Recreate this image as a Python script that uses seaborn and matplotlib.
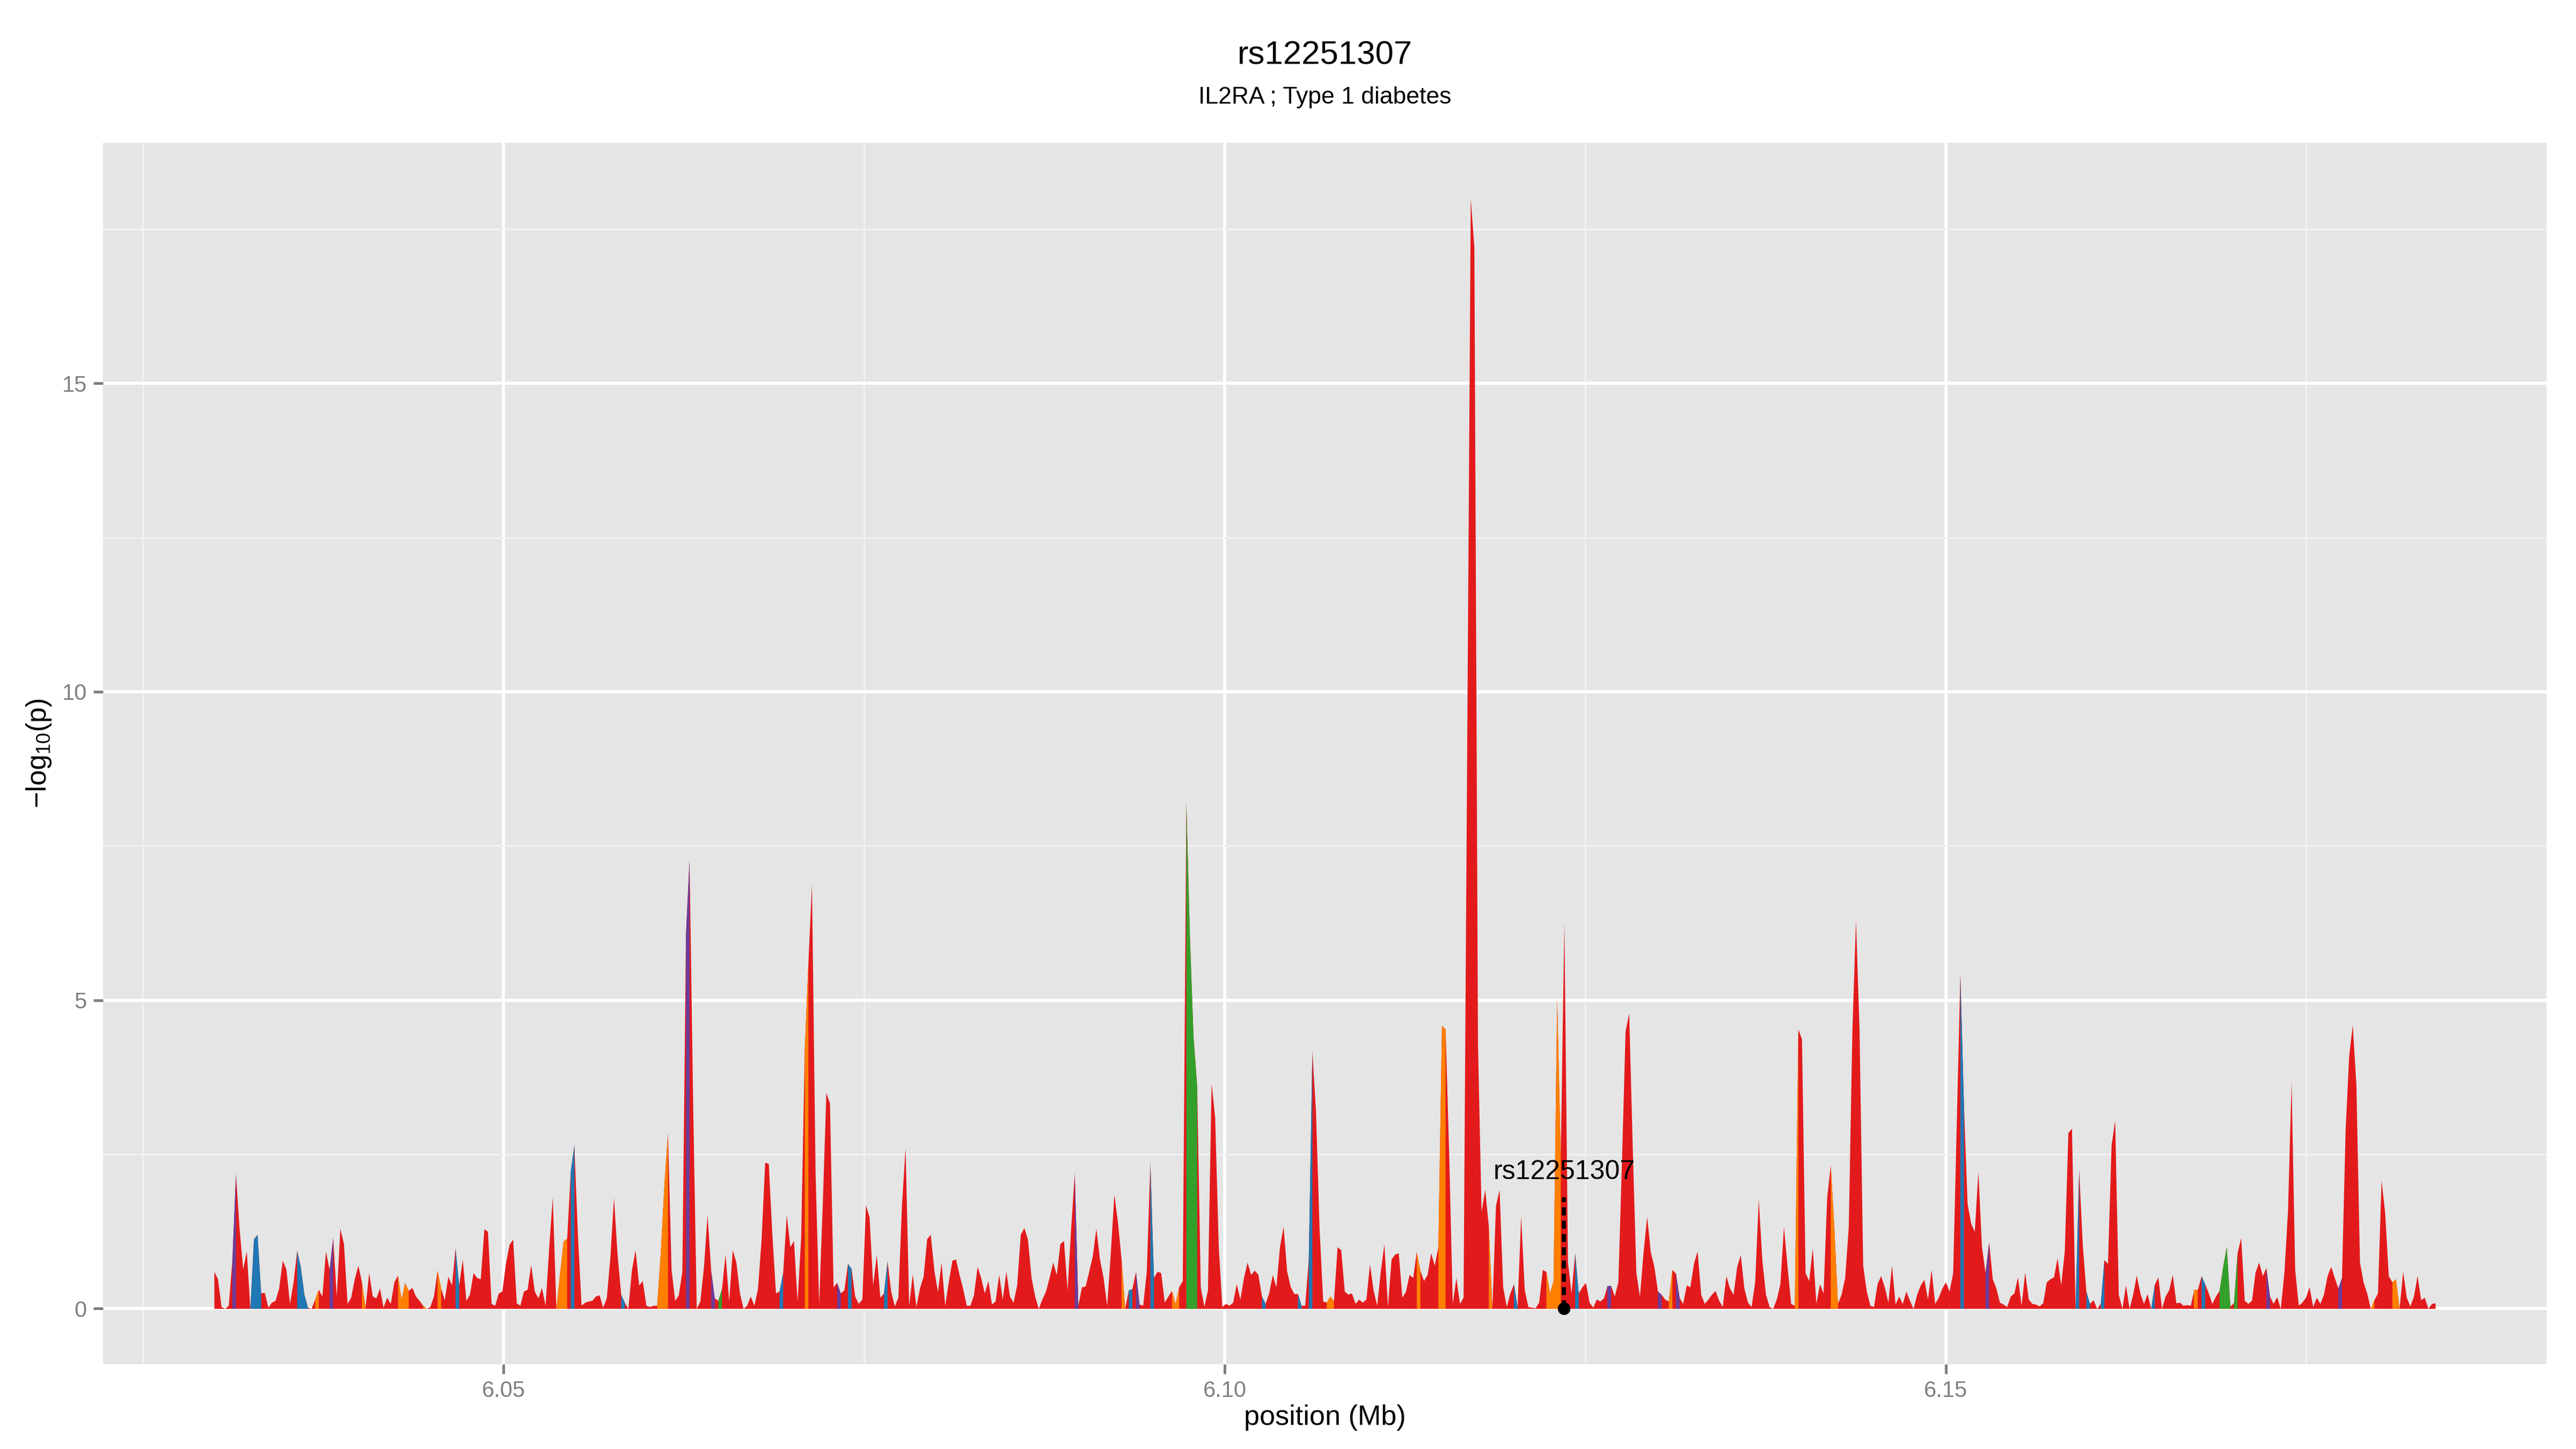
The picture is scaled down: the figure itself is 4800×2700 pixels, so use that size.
import numpy as np
import matplotlib
matplotlib.use("Agg")
import matplotlib.pyplot as plt
import seaborn as sns

# region shown (Mb); the SNPs sit on an even grid (~250 bp apart)
pos_start = 6.02993
pos_end = 6.18395

# -log10(p) for every SNP, left to right
neglogp = [
    # ~6.030 - 6.060
    0.60, 0.48, 0.03, 0.00, 0.05, 0.78, 2.19, 1.30, 0.64, 0.93,
    0.00, 1.13, 1.20, 0.25, 0.26, 0.02, 0.10, 0.13, 0.33, 0.78,
    0.64, 0.08, 0.43, 0.94, 0.68, 0.23, 0.02, 0.00, 0.15, 0.31,
    0.20, 0.93, 0.63, 1.15, 0.20, 1.30, 1.05, 0.08, 0.18, 0.48,
    0.70, 0.43, 0.02, 0.58, 0.20, 0.17, 0.33, 0.02, 0.18, 0.08,
    0.43, 0.54, 0.15, 0.42, 0.29, 0.34, 0.20, 0.13, 0.05, 0.00,
    0.03, 0.20, 0.62, 0.33, 0.14, 0.52, 0.38, 0.98, 0.38, 0.80,
    0.13, 0.23, 0.58, 0.50, 0.48, 1.29, 1.25, 0.08, 0.05, 0.25,
    0.28, 0.73, 1.04, 1.12, 0.09, 0.05, 0.28, 0.31, 0.71, 0.28,
    0.17, 0.34, 0.05, 0.98, 1.81, 0.00, 0.55, 1.09, 1.14, 2.23,
    2.65, 1.18, 0.05, 0.10, 0.12, 0.13, 0.20, 0.22, 0.02, 0.17,
    0.83, 1.80, 0.88, 0.23, 0.10, 0.00, 0.63, 0.95, 0.38, 0.45,
    0.05, 0.03, 0.05,
    # ~6.060 - 6.091
    0.05, 0.90, 2.00, 2.85, 0.63, 0.13, 0.22, 0.60, 6.07, 7.28,
    3.30, 0.00, 0.12, 0.68, 1.52, 0.62, 0.17, 0.13, 0.32, 0.88,
    0.12, 0.95, 0.75, 0.25, 0.00, 0.05, 0.20, 0.05, 0.32, 1.12,
    2.37, 2.35, 1.20, 0.25, 0.28, 0.58, 1.52, 1.00, 1.10, 0.12,
    1.15, 4.20, 5.60, 6.88, 2.20, 0.08, 1.70, 3.50, 3.33, 0.35,
    0.42, 0.25, 0.30, 0.73, 0.65, 0.20, 0.08, 0.15, 1.68, 1.48,
    0.38, 0.87, 0.18, 0.25, 0.77, 0.28, 0.04, 0.18, 1.68, 2.61,
    0.05, 0.56, 0.03, 0.33, 0.52, 1.13, 1.20, 0.62, 0.27, 0.75,
    0.05, 0.43, 0.78, 0.80, 0.55, 0.32, 0.05, 0.05, 0.22, 0.68,
    0.50, 0.25, 0.45, 0.07, 0.12, 0.55, 0.15, 0.60, 0.20, 0.10,
    0.38, 1.20, 1.31, 1.12, 0.50, 0.20, 0.00, 0.15, 0.28, 0.50,
    0.75, 0.55, 1.05, 1.10, 0.30, 1.30, 2.20, 0.05, 0.35, 0.36,
    0.60, 0.85, 1.30, 0.80,
    # ~6.091 - 6.117
    0.50, 0.05, 0.90, 1.85, 1.40, 0.80, 0.00, 0.30, 0.32, 0.60,
    0.07, 0.05, 0.60, 2.37, 0.50, 0.60, 0.58, 0.10, 0.20, 0.29,
    0.08, 0.35, 0.45, 8.20, 6.00, 4.40, 3.60, 0.35, 0.03, 0.30,
    3.65, 3.10, 1.00, 0.03, 0.08, 0.05, 0.10, 0.40, 0.15, 0.50,
    0.75, 0.55, 0.62, 0.55, 0.20, 0.08, 0.25, 0.55, 0.35, 1.00,
    1.33, 0.60, 0.35, 0.24, 0.24, 0.05, 0.05, 0.80, 4.18, 3.20,
    1.30, 0.12, 0.10, 0.20, 0.12, 1.00, 0.95, 0.28, 0.23, 0.25,
    0.08, 0.15, 0.10, 0.15, 0.72, 0.30, 0.05, 0.60, 1.05, 0.03,
    0.80, 0.88, 0.90, 0.18, 0.28, 0.55, 0.50, 0.92, 0.62, 0.45,
    0.55, 0.90, 0.70, 1.00, 4.59, 4.53, 2.50, 0.08, 0.50, 0.08,
    0.18,
    # ~6.117 - 6.129 (top hit and lead SNP)
    9.00, 18.00, 17.20, 4.30, 1.57, 1.93, 1.35, 0.00, 1.67, 1.93,
    0.35, 0.03, 0.25, 0.40, 0.03, 1.50, 0.30, 0.03, 0.02, 0.01,
    0.10, 0.63, 0.60, 0.25, 0.45, 5.02, 2.50, 6.27, 0.75, 0.25,
    0.90, 0.25, 0.35, 0.42, 0.10, 0.02, 0.15, 0.12, 0.17, 0.37,
    0.37, 0.20, 0.43, 2.40, 4.50, 4.79, 2.60, 0.58,
    # ~6.129 - 6.153
    0.20, 0.92, 1.49, 0.92, 0.68, 0.28, 0.23, 0.15, 0.12, 0.63,
    0.57, 0.18, 0.08, 0.38, 0.35, 0.73, 0.93, 0.23, 0.08, 0.15,
    0.23, 0.29, 0.13, 0.03, 0.53, 0.33, 0.23, 0.68, 0.87, 0.33,
    0.10, 0.03, 0.43, 1.77, 0.78, 0.23, 0.03, 0.00, 0.15, 0.40,
    1.33, 0.68, 0.08, 0.05, 4.53, 4.37, 0.58, 0.45, 0.98, 0.08,
    0.40, 0.25, 1.80, 2.33, 1.30, 0.08, 0.23, 0.50, 1.33, 4.50,
    6.30, 4.50, 0.70, 0.28, 0.05, 0.03, 0.40, 0.53, 0.35, 0.10,
    0.70, 0.07, 0.20, 0.08, 0.28, 0.13, 0.00, 0.23, 0.38, 0.47,
    0.15, 0.63, 0.08, 0.18, 0.33, 0.43, 0.28, 0.58, 3.00, 5.43,
    3.30, 1.70, 1.38, 1.25, 2.22, 1.00, 0.58, 1.08, 0.48,
    # ~6.153 - 6.184
    0.33, 0.10, 0.07, 0.03, 0.20, 0.25, 0.51, 0.05, 0.59, 0.15,
    0.08, 0.07, 0.04, 0.09, 0.43, 0.48, 0.51, 0.82, 0.38, 0.93,
    2.85, 2.92, 0.00, 2.25, 1.03, 0.28, 0.08, 0.14, 0.00, 0.08,
    0.79, 0.73, 2.65, 3.05, 0.23, 0.00, 0.38, 0.00, 0.23, 0.54,
    0.25, 0.08, 0.24, 0.00, 0.39, 0.51, 0.00, 0.20, 0.30, 0.55,
    0.09, 0.10, 0.05, 0.06, 0.05, 0.31, 0.31, 0.53, 0.40, 0.25,
    0.08, 0.20, 0.29, 0.68, 1.00, 0.04, 0.09, 0.90, 1.15, 0.13,
    0.08, 0.13, 0.59, 0.75, 0.53, 0.66, 0.20, 0.08, 0.19, 0.00,
    0.58, 1.58, 3.68, 0.63, 0.05, 0.10, 0.18, 0.35, 0.03, 0.18,
    0.08, 0.23, 0.53, 0.68, 0.50, 0.33, 0.50, 2.88, 4.10, 4.60,
    3.63, 0.75, 0.43, 0.25, 0.00, 0.14, 0.25, 2.08, 1.55, 0.53,
    0.43, 0.48, 0.00, 0.60, 0.18, 0.04, 0.20, 0.53, 0.14, 0.18,
    0.00, 0.08, 0.09,
]

# LD class of each SNP (colours the stretch up to the next SNP)
# R red, O orange, B blue, P purple, G green
ld_class = (
    "RRRRRPRRRR" "BBBRRRRRRR" "RRRBBBRROR" "RRPRRRRRRR" "RORRRRRRRR"
    "ROOORRRROR" "RRORRRRBRR" "RRRRRRRRRR" "RRRRRRRRRR" "RRRRROOORB"
    "RRRRRRRRRR" "RRRBRRRRRR" "RRR"
    "OOORRRRRPR" "RRRRRPRGRR" "RRRRRRRRRR" "RRRRBRRRRR" "RORRRRRRRR"
    "PRRBRRRRRR" "RRRBRRRRRR" "RRRRRRRRRR" "RRRRRRRRRR" "RRRRRRRRRR"
    "RRRRRRRRRR" "RRRRRRPRRR" "RRRR"
    "RRRRRORBRP" "RRRBRRRRRO" "ORRGGGRRRR" "RRRRRRRRRR" "RRRRBRRRRR"
    "RRRRBRRBRR" "RROORRRRRR" "RRRRRRRRRR" "RRRRRRRORR" "RRROORRRRR"
    "R"
    "RRRRRRORRR" "RRRBRRRRRR" "RROOOORRRR" "BRRRRRRRRP" "RRRRRRRR"
    "RRRRRPRROR" "PRRRRRRRRR" "RRRRRRRRRR" "RRRRRRRRRR" "RRRORRRRRR"
    "RRROORRRRR" "RRRRRRRRRR" "RRRRRRRRRR" "RRRRRRRRRB" "RRRRRRPRR"
    "RRRRRRRRRR" "RRRRRRRRRR" "RRBRRBRRRB" "RRRRRRRRRR" "RRRBRRRRRR"
    "RRRRRORBRR" "RRGGGRGRRR" "RRRRRPRRRR" "RRRRRRRRRR" "RRRRRPRRRR"
    "RRRRORRRRR" "OORRRRRRRR" "RRR"
)
ld_colors = {"R": "#E31A1C", "O": "#FF7F00", "B": "#1F78B4",
             "P": "#6A3D9A", "G": "#33A02C"}

lead_snp = "rs12251307"
lead_idx = 375
title = "rs12251307"
subtitle = "IL2RA ; Type 1 diabetes"

# ggplot-ish look
sns.set_theme(style="darkgrid", rc={"axes.facecolor": "#E5E5E5", "grid.color": "white"})
plt.rcParams['font.family'] = ['Liberation Sans', 'DejaVu Sans']
plt.rcParams['mathtext.fontset'] = 'custom'
plt.rcParams['mathtext.rm'] = 'Liberation Sans'
plt.rcParams['mathtext.default'] = 'rm'

y = np.array(neglogp)
pos = np.linspace(pos_start, pos_end, len(y))
codes = list(ld_class)
if len(codes) < len(y):
    codes += ["R"] * (len(y) - len(codes))

fig, ax = plt.subplots(figsize=(16, 9), dpi=300)
fig.subplots_adjust(left=0.04, right=0.9885, bottom=0.0586, top=0.9015)

# whole profile in red first, then the other LD classes on top
ax.fill_between(pos, 0, y, color=ld_colors["R"], lw=0, zorder=2)
n = len(y)
i = 0
while i < n - 1:
    j = i
    while j + 1 < n - 1 and codes[j + 1] == codes[i]:
        j += 1
    if codes[i] != "R":
        ax.fill_between(pos[i:j + 2], 0, y[i:j + 2], color=ld_colors[codes[i]], lw=0, zorder=2)
    i = j + 1

# lead SNP marker, dotted stem and label
x_lead = pos[lead_idx]
ax.plot([x_lead, x_lead], [0, 1.8], color="black", lw=1.8, ls=(0, (2, 1.3)),
        solid_capstyle="butt", zorder=4)
sns.scatterplot(x=[x_lead], y=[0], color="black", s=32, linewidth=0, ax=ax, zorder=5)
ax.text(x_lead, 2.1, lead_snp, ha="center", va="baseline", fontsize=12, color="black", zorder=6)

# axes, grid
pad = 0.05 * (pos_end - pos_start)
ax.set_xlim(pos_start - pad, pos_end + pad)
ymax = y.max()
ax.set_ylim(-0.05 * ymax, 1.05 * ymax)
ax.set_xticks([6.05, 6.10, 6.15])
ax.set_xticklabels(["6.05", "6.10", "6.15"])
ax.set_xticks([6.025, 6.075, 6.125, 6.175], minor=True)
ax.set_yticks([0, 5, 10, 15])
ax.set_yticks([2.5, 7.5, 12.5, 17.5], minor=True)
ax.grid(which="major", color="white", lw=1.42)
ax.grid(which="minor", color="#F2F2F2", lw=0.71)
ax.set_axisbelow(True)
for s in ax.spines.values():
    s.set_visible(False)
ax.tick_params(which="major", bottom=True, left=True, length=4.25, width=1.2,
               color="#7F7F7F", labelcolor="#7F7F7F", labelsize=10, pad=3)
ax.tick_params(which="minor", length=0)

ax.set_xlabel("position (Mb)", fontsize=12.5, color="black", va="baseline")
ax.xaxis.set_label_coords(0.5, -0.0498)
ax.set_ylabel("\u2212log$_{10}$(p)", fontsize=12.5, color="black", va="center")
ax.yaxis.set_label_coords(-0.0263, 0.5)

xc = 0.5 * (0.04 + 0.9885)
fig.text(xc, 0.9556, title, ha="center", va="baseline", fontsize=14.8, color="black")
fig.text(xc, 0.9285, subtitle, ha="center", va="baseline", fontsize=10.7, color="black")

fig.savefig("out.png", dpi=300)
